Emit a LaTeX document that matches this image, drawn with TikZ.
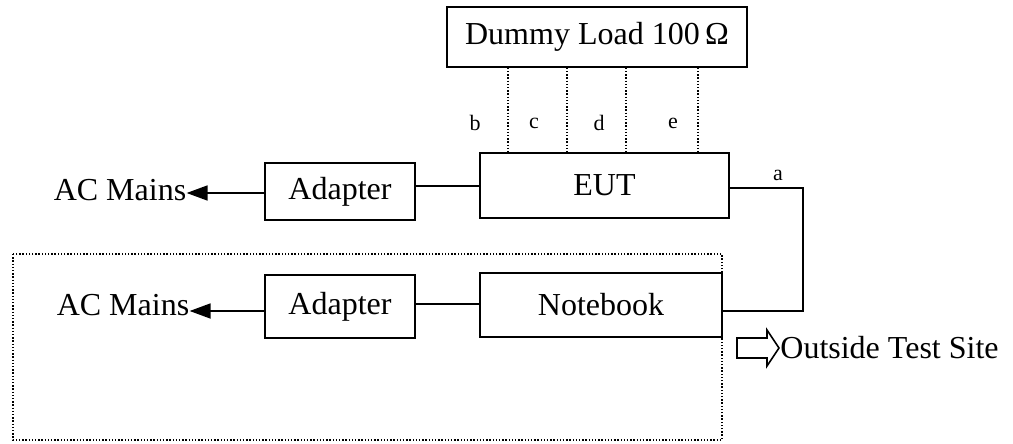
\documentclass[tikz,border=0pt]{standalone}
\usepackage{fontspec}
\setmainfont{Liberation Serif}
\usetikzlibrary{arrows.meta}
\newcommand{\blocknode}{\node[draw,rectangle,line width=0.9pt,inner sep=0pt]}
\newcommand{\lbl}{\node[font=\fontsize{11}{13}\selectfont]}
\tikzset{dotline/.style={line width=0.8pt,dash pattern=on 0.7pt off 0.9pt},
  wire/.style={line width=0.9pt},
  mains/.style={line width=0.9pt,-{Triangle[length=10.5pt,width=7.5pt]}}}

\begin{document}
\begin{tikzpicture}[x=0.5pt,y=-0.5pt,font=\fontsize{16}{19}\selectfont]
      \useasboundingbox (0,0) rectangle (1013,444);
      \draw[dotline] (13,254) rectangle (722,440); % test site
      \blocknode[minimum width=150pt,minimum height=30pt] (load) at (597,37) {Dummy Load 100\,Ω};
      \blocknode[minimum width=124.5pt,minimum height=32.5pt] (eut) at (604.5,185.5) {EUT};
      \blocknode[minimum width=75pt,minimum height=28.5pt] (adp1) at (340,191.5) {Adapter};
      \blocknode[minimum width=75pt,minimum height=31.5pt] (adp2) at (340,306.5) {Adapter};
      \blocknode[minimum width=121pt,minimum height=32pt] (nb) at (601,305) {Notebook};
      \node[inner sep=0pt] (mains1) at (120,190) {AC Mains};
      \node[inner sep=0pt] (mains2) at (123,305) {AC Mains};
      \node[inner sep=0pt,anchor=west] (site) at (780,348) {Outside Test Site};
      \coordinate (abend1) at (803,188);
      \coordinate (abend2) at (803,311);
      % labels
      \lbl (la) at (778,175) {a};
      \lbl (lb) at (475,123) {b};
      \lbl (lc) at (534,123) {c};
      \lbl (ld) at (599,123) {d};
      \lbl (le) at (673,123) {e};
      % dummy load cables
      \foreach \xx in {508,567,626,698}
        \draw[dotline] (load.south -| \xx,0) -- (eut.north -| \xx,0);
      \draw[wire] (adp1.east |- 0,186) -- (eut.west |- 0,186);
      \draw[wire] (adp2.east |- 0,304) -- (nb.west |- 0,304);
      \draw[mains] (adp1.west |- 0,193) -- (mains1.east |- 0,193);
      \draw[mains] (adp2.west |- 0,311) -- (mains2.east |- 0,311);
      \draw[wire] (eut.east |- abend1) -- (abend1) -- (abend2) -- (nb.east |- abend2);
      % open arrow
      \draw[line width=0.8pt] (site.west) ++(-43,-10) -- ++(30,0) -- ++(0,-8)
        -- ++(12,18) -- ++(-12,18) -- ++(0,-8) -- ++(-30,0) -- cycle;
\end{tikzpicture}
\end{document}
